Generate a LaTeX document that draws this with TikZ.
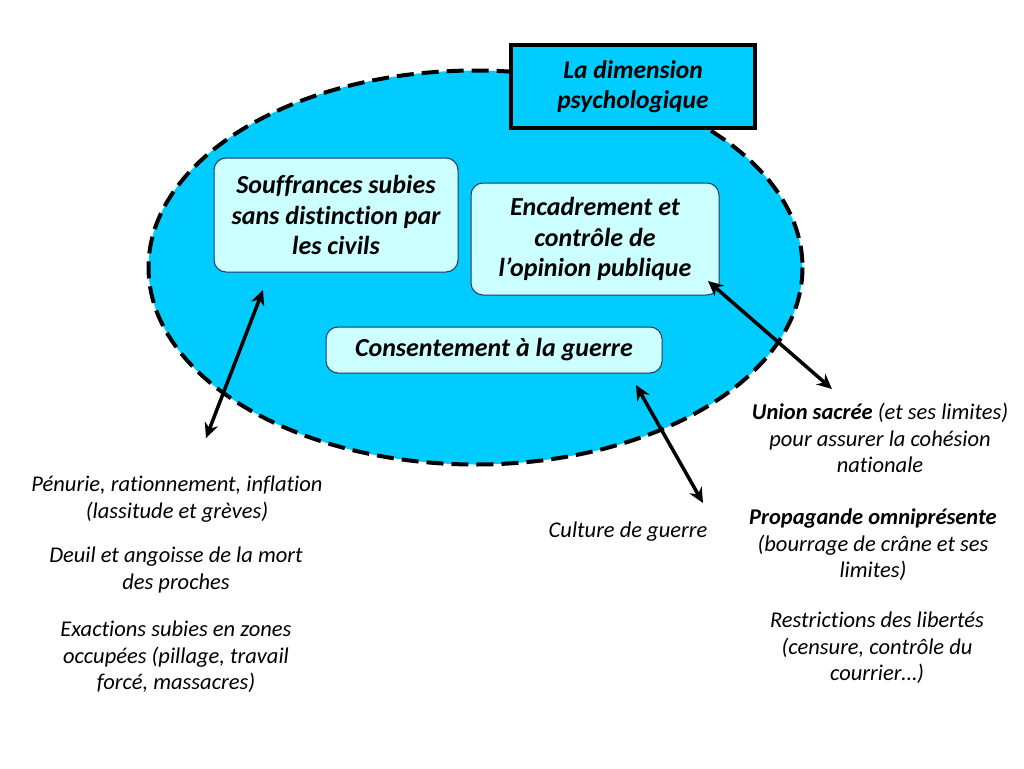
\documentclass[tikz,border=0pt]{standalone}
\usepackage{fontspec}
\setmainfont[Ligatures=NoCommon]{Carlito}
\usetikzlibrary{arrows.meta}

\definecolor{ovalblue}{HTML}{00CCFF}
\definecolor{boxpale}{HTML}{CCFFFF}
\definecolor{boxline}{HTML}{1F3864}

\tikzset{
  themebox/.style={draw=boxline, line width=1pt, fill=boxpale, rounded corners=12pt,
    align=center, inner sep=0pt, font=\fontsize{26}{30.5}\selectfont\bfseries\itshape},
  titlebox/.style={draw=black, line width=4pt, fill=ovalblue, align=center, inner sep=0pt,
    font=\fontsize{25.5}{30}\selectfont\bfseries\itshape},
  note/.style={align=center, inner sep=0pt, font=\fontsize{22.5}{26.5}\selectfont\itshape},
  link/.style={line width=3.5pt, {Stealth[length=15pt,width=14pt]}-{Stealth[length=15pt,width=14pt]}}
}

\begin{document}
\begin{tikzpicture}[x=1pt, y=-1pt]
  \useasboundingbox (0,0) rectangle (1024,768);

  % Dashed oval
  \draw[fill=ovalblue, line width=4pt, dash pattern=on 17pt off 8pt]
    (475.5,267.5) ellipse [x radius=327, y radius=197];

  % Title box
  \node[titlebox, minimum width=244, minimum height=83] (titre) at (633,86.5)
    {La dimension\\psychologique};

  % Inner boxes
  \node[themebox, minimum width=244, minimum height=114] (souff) at (336,215)
    {Souffrances subies\\sans distinction par\\les civils};
  \node[themebox, minimum width=248, minimum height=112] (encad) at (595,239)
    {Encadrement et\\contrôle de\\l'opinion publique};
  \node[themebox, minimum width=336, minimum height=46] (consent) at (494,350)
    {Consentement à la guerre};

  % Notes on the left
  \node[note] (penurie) at (177,499) {Pénurie, rationnement, inflation\\(lassitude et grèves)};
  \node[note] (deuil) at (176,570) {Deuil et angoisse de la mort\\des proches};
  \node[note] (exactions) at (176,657) {Exactions subies en zones\\occupées (pillage, travail\\forcé, massacres)};

  % Note in the middle
  \node[note] (culture) at (628,532) {Culture de guerre};

  % Notes on the right
  \node[note] (union) at (880,438) {\textbf{Union sacrée} (et ses limites)\\pour assurer la cohésion\\nationale};
  \node[note] (propagande) at (873,545) {\textbf{Propagande omniprésente}\\(bourrage de crâne et ses\\limites)};
  \node[note] (libertes) at (877,648) {Restrictions des libertés\\(censure, contrôle du\\courrier…)};

  % Arrow ends
  \coordinate (souffTip) at (263,290);
  \coordinate (penurieTip) at (206,438);
  \coordinate (encadTip) at (708,281);
  \coordinate (unionTip) at (832,389);
  \coordinate (consentTip) at (636,385);
  \coordinate (cultureTip) at (703,503);

  % Arrows
  \draw[link] (souffTip) -- (penurieTip);
  \draw[link] (encadTip) -- (unionTip);
  \draw[link] (consentTip) -- (cultureTip);
\end{tikzpicture}
\end{document}
